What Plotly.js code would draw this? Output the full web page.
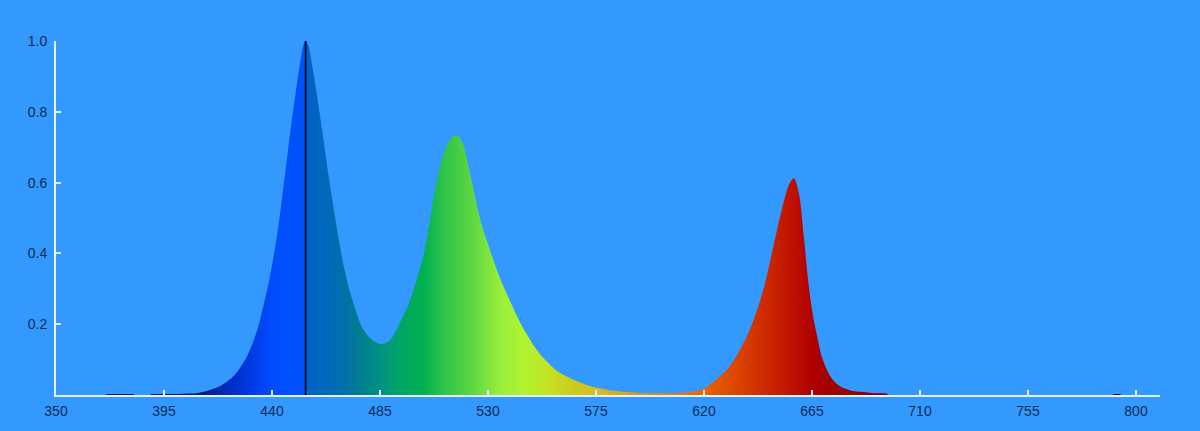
<!DOCTYPE html>
<html>
<head>
<meta charset="utf-8">
<script src="https://cdn.plot.ly/plotly-3.0.1.min.js"></script>
<style>html,body{margin:0;padding:0;background:#3399ff;}#chart{width:1200px;height:431px;}</style>
</head>
<body>
<div id="chart"></div>
<script>
// Main emission spectrum: wavelength (nm) and relative intensity
const wavelength = [400,405,409,412,415,418,420,423,426,430,433.8,436,439,442.4,445,447.7,450,452,453,454,455,456,458,460.9,464,467.2,470,473,478.3,482,485.5,488,490,493,497,500,503.3,505.5,507.4,510,513,515,516.5,518,519.5,521,523.4,527,531.3,535,539.4,543,546.3,550,554,558,562,565.7,570,575,580,585,590,595,600,605,610,615,618,621,625,630,635,640,645,649.8,653,655.5,657.4,659.5,661.6,663.7,665.5,667.2,669,671.3,674,677,681,685,690,696];
const intensity  = [0.003,0.004,0.006,0.010,0.016,0.024,0.032,0.047,0.07,0.115,0.182,0.24,0.33,0.465,0.6,0.748,0.86,0.95,0.985,1.0,0.99,0.96,0.88,0.748,0.6,0.465,0.36,0.28,0.182,0.155,0.144,0.148,0.162,0.2,0.258,0.32,0.40,0.48,0.56,0.645,0.708,0.728,0.734,0.728,0.71,0.672,0.598,0.49,0.40,0.33,0.262,0.21,0.17,0.13,0.098,0.072,0.055,0.043,0.031,0.021,0.014,0.01,0.008,0.006,0.005,0.005,0.006,0.009,0.014,0.022,0.043,0.075,0.128,0.2,0.305,0.447,0.54,0.595,0.612,0.57,0.447,0.305,0.22,0.164,0.11,0.07,0.04,0.023,0.013,0.009,0.006,0.004];

// Tiny near-zero readings on the baseline
const baseWl = [370,372,382,383,389,390,400,696,697,790,791,793,794];
const baseI  = [0,0.003,0.003,0,0,0.003,0.003,0.004,0,0,0.003,0.003,0];

// Spectral colour stops (wavelength -> colour)
const colorWl  = [360,372,400,410,420,430,440,453.8,454.2,462,470,478,486,495,503,512,524,535,545,555,565,575,590,605,620,632,643,655,665,675,700,800];
const colorHex = ['#000030','#0a0a50','#101870','#0a1a80','#0428b8','#0038e0','#004cff','#0052f8','#0060c8','#0068bc','#0070a8','#00808f','#009480','#00a860','#00b050','#30c448','#60d840','#98ee3c','#b0f430','#c4e424','#cccc20','#d4c020','#d8a018','#e08010','#e86400','#dc4800','#d03000','#c01400','#b00000','#a00000','#800000','#300000'];

const peakMarker = 454;
const xTicks = [350,395,440,485,530,575,620,665,710,755,800];
const yTicks = [0.2,0.4,0.6,0.8,1.0];

const gStart = colorWl[0], gStop = colorWl[colorWl.length-1];
const colorscale = colorWl.map((w,i)=>[(w-gStart)/(gStop-gStart), colorHex[i]]);
const grad = {type: 'horizontal', colorscale: colorscale, start: gStart, stop: gStop};

const traces = [
  {
    x: baseWl, y: baseI, type: 'scatter', mode: 'lines',
    line: {width: 0, color: 'rgba(0,0,0,0)'},
    fill: 'tozeroy', fillgradient: grad,
    hoverinfo: 'skip', showlegend: false
  },
  {
    x: wavelength, y: intensity, type: 'scatter', mode: 'lines',
    line: {width: 0, color: 'rgba(0,0,0,0)', shape: 'spline', smoothing: 1},
    fill: 'tozeroy', fillgradient: grad,
    hoverinfo: 'skip', showlegend: false
  },
  {
    x: [peakMarker, peakMarker], y: [0, 1.0], type: 'scatter', mode: 'lines',
    line: {color: '#000000', width: 1.5}, hoverinfo: 'skip', showlegend: false
  }
];

const axisCommon = {
  showgrid: false, zeroline: false, showline: true,
  linecolor: '#e6f2ff', linewidth: 2,
  ticks: 'inside', ticklen: 5, tickwidth: 2, tickcolor: '#e6f2ff',
  tickfont: {family: 'Liberation Sans, Arial, sans-serif', size: 14, color: '#102a55'},
  fixedrange: true
};

const layout = {
  width: 1200, height: 431,
  paper_bgcolor: '#3399ff', plot_bgcolor: '#3399ff',
  margin: {l: 56, r: 40, t: 41, b: 36},
  showlegend: false,
  xaxis: Object.assign({}, axisCommon, {range: [350, 810], tickmode: 'array', tickvals: xTicks, ticktext: xTicks.map(String), ticklabelstandoff: 2}),
  yaxis: Object.assign({}, axisCommon, {range: [0, 1.0], tickmode: 'array', tickvals: yTicks, ticktext: yTicks.map(v=>v.toFixed(1)), ticklabelstandoff: 4})
};

Plotly.newPlot('chart', traces, layout, {displayModeBar: false, staticPlot: true});
</script>
</body>
</html>
